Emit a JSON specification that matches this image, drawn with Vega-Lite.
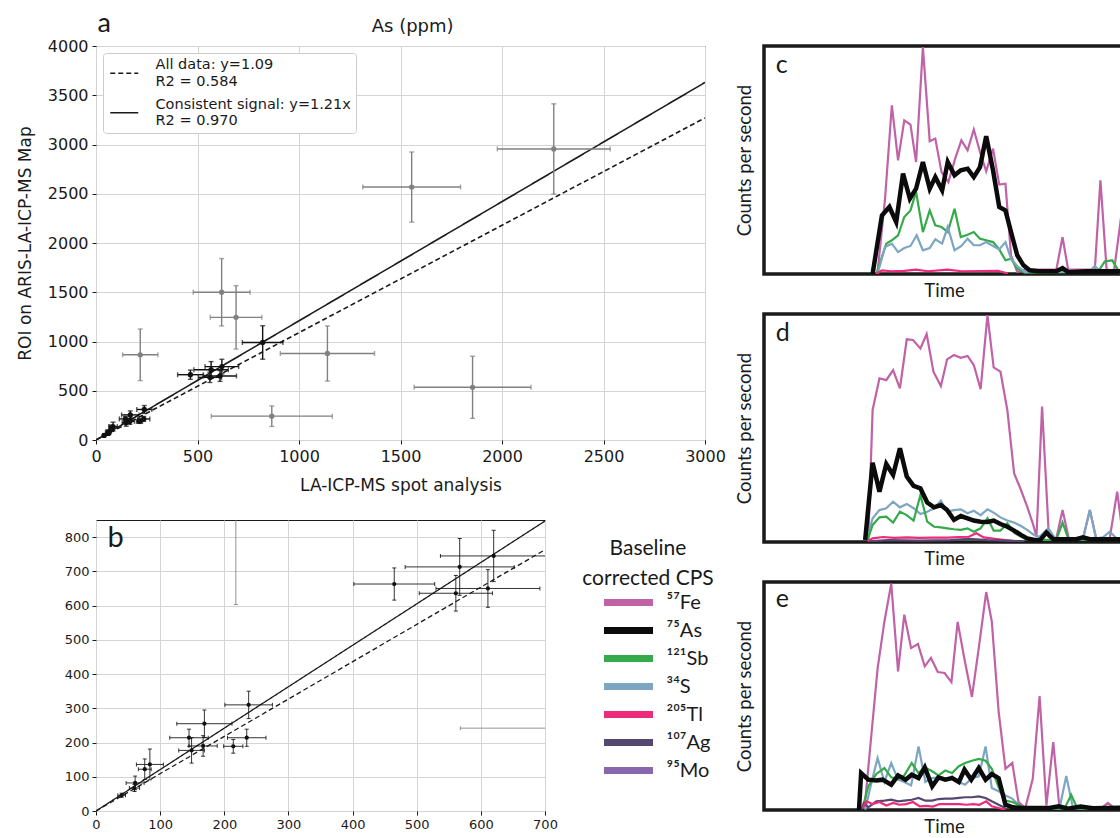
{
"$schema": "https://vega.github.io/schema/vega-lite/v6.json",
"padding": {"left": 15, "top": 9, "right": 0, "bottom": 0},
"background": "white",
"config": {
  "axis": {"labelFont": "DejaVu Sans", "titleFont": "DejaVu Sans", "titleFontWeight": "normal", "labelColor": "#1a1a1a", "titleColor": "#1a1a1a", "gridColor": "#d4d4d4", "gridWidth": 1, "tickColor": "#1a1a1a", "domain": false, "labelFlush": false},
  "style": {"guide-label": {"lineHeight": 16.5}}
},
"datasets": {
  "pts": [
    {"x":465,"y":663,"xe":63,"ye":47,"s":"consistent"},
    {"x":567,"y":713,"xe":85,"ye":83,"s":"consistent"},
    {"x":561,"y":636,"xe":57,"ye":52,"s":"consistent"},
    {"x":611,"y":650,"xe":81,"ye":55,"s":"consistent"},
    {"x":620,"y":745,"xe":83,"ye":75,"s":"consistent"},
    {"x":238,"y":310,"xe":37,"ye":40,"s":"consistent"},
    {"x":169,"y":255,"xe":43,"ye":40,"s":"consistent"},
    {"x":145,"y":214,"xe":30,"ye":25,"s":"consistent"},
    {"x":235,"y":214,"xe":30,"ye":25,"s":"consistent"},
    {"x":214,"y":189,"xe":15,"ye":20,"s":"consistent"},
    {"x":167,"y":190,"xe":22,"ye":30,"s":"consistent"},
    {"x":149,"y":177,"xe":20,"ye":37,"s":"consistent"},
    {"x":84,"y":136,"xe":21,"ye":45,"s":"consistent"},
    {"x":76,"y":122,"xe":10,"ye":30,"s":"consistent"},
    {"x":61,"y":82,"xe":14,"ye":20,"s":"consistent"},
    {"x":60,"y":67,"xe":8,"ye":10,"s":"consistent"},
    {"x":40,"y":46,"xe":6,"ye":6,"s":"consistent"},
    {"x":821,"y":990,"xe":100,"ye":170,"s":"consistent"},
    {"x":218,"y":865,"xe":87,"ye":262,"s":"inconsistent"},
    {"x":619,"y":1500,"xe":140,"ye":342,"s":"inconsistent"},
    {"x":690,"y":1245,"xe":127,"ye":322,"s":"inconsistent"},
    {"x":1140,"y":878,"xe":232,"ye":280,"s":"inconsistent"},
    {"x":866,"y":242,"xe":298,"ye":104,"s":"inconsistent"},
    {"x":1855,"y":535,"xe":288,"ye":315,"s":"inconsistent"},
    {"x":1555,"y":2568,"xe":241,"ye":356,"s":"inconsistent"},
    {"x":2255,"y":2955,"xe":278,"ye":458,"s":"inconsistent"}
  ],
  "fits": [
    {"fit":"All data: y=1.09","x":0,"y":0},
    {"fit":"All data: y=1.09","x":3000,"y":3270},
    {"fit":"Consistent signal: y=1.21x","x":0,"y":0},
    {"fit":"Consistent signal: y=1.21x","x":3000,"y":3630}
  ],
  "labels": [
    {"p":"a","lab":"a","x":8,"y":4142},
    {"p":"atitle","lab":"As (ppm)","x":1560,"y":4193},
    {"p":"b","lab":"b","x":18,"y":772},
    {"p":"c","lab":"c","t":1.9,"v":88},
    {"p":"d","lab":"d","t":1.9,"v":88},
    {"p":"e","lab":"e","t":1.9,"v":89}
  ],
  "cps": [
    {"p":"c","e":"⁵⁷Fe","t":18.3,"v":0.9},{"p":"c","e":"⁵⁷Fe","t":19.5,"v":33},{"p":"c","e":"⁵⁷Fe","t":20.6,"v":74},{"p":"c","e":"⁵⁷Fe","t":21.6,"v":49.8},{"p":"c","e":"⁵⁷Fe","t":22.6,"v":67.4},{"p":"c","e":"⁵⁷Fe","t":23.6,"v":65.5},{"p":"c","e":"⁵⁷Fe","t":24.5,"v":49.1},{"p":"c","e":"⁵⁷Fe","t":25.6,"v":99.5},{"p":"c","e":"⁵⁷Fe","t":26.7,"v":58.2},{"p":"c","e":"⁵⁷Fe","t":27.6,"v":59.4},{"p":"c","e":"⁵⁷Fe","t":28.6,"v":44.7},{"p":"c","e":"⁵⁷Fe","t":29.7,"v":40.3},{"p":"c","e":"⁵⁷Fe","t":30.8,"v":50.6},{"p":"c","e":"⁵⁷Fe","t":31.8,"v":58.6},{"p":"c","e":"⁵⁷Fe","t":32.8,"v":54.2},{"p":"c","e":"⁵⁷Fe","t":33.8,"v":63.4},{"p":"c","e":"⁵⁷Fe","t":34.8,"v":53.5},{"p":"c","e":"⁵⁷Fe","t":35.8,"v":45},{"p":"c","e":"⁵⁷Fe","t":36.9,"v":55},{"p":"c","e":"⁵⁷Fe","t":37.9,"v":39.2},{"p":"c","e":"⁵⁷Fe","t":38.9,"v":39.6},{"p":"c","e":"⁵⁷Fe","t":39.8,"v":8.2},{"p":"c","e":"⁵⁷Fe","t":40.8,"v":0.9},{"p":"c","e":"⁵⁷Fe","t":42,"v":1.9},{"p":"c","e":"⁵⁷Fe","t":47.1,"v":1.9},{"p":"c","e":"⁵⁷Fe","t":48.1,"v":16.2},{"p":"c","e":"⁵⁷Fe","t":49,"v":1.9},{"p":"c","e":"⁵⁷Fe","t":53.3,"v":1.9},{"p":"c","e":"⁵⁷Fe","t":54.2,"v":41.1},{"p":"c","e":"⁵⁷Fe","t":55.2,"v":1.9},{"p":"c","e":"⁵⁷Fe","t":56.4,"v":1.5},{"p":"c","e":"⁵⁷Fe","t":58.5,"v":45},
    {"p":"c","e":"¹²¹Sb","t":18.1,"v":0.1},{"p":"c","e":"¹²¹Sb","t":19.7,"v":13.3},{"p":"c","e":"¹²¹Sb","t":20.6,"v":14.8},{"p":"c","e":"¹²¹Sb","t":21.6,"v":17},{"p":"c","e":"¹²¹Sb","t":22.6,"v":25},{"p":"c","e":"¹²¹Sb","t":23.6,"v":27.9},{"p":"c","e":"¹²¹Sb","t":24.5,"v":36},{"p":"c","e":"¹²¹Sb","t":25.6,"v":18.4},{"p":"c","e":"¹²¹Sb","t":26.7,"v":27.9},{"p":"c","e":"¹²¹Sb","t":27.6,"v":21.3},{"p":"c","e":"¹²¹Sb","t":28.6,"v":20.6},{"p":"c","e":"¹²¹Sb","t":29.6,"v":18.4},{"p":"c","e":"¹²¹Sb","t":30.7,"v":28.6},{"p":"c","e":"¹²¹Sb","t":31.7,"v":16.2},{"p":"c","e":"¹²¹Sb","t":32.8,"v":17.2},{"p":"c","e":"¹²¹Sb","t":33.8,"v":18.4},{"p":"c","e":"¹²¹Sb","t":34.8,"v":15.5},{"p":"c","e":"¹²¹Sb","t":35.8,"v":14.8},{"p":"c","e":"¹²¹Sb","t":36.9,"v":14},{"p":"c","e":"¹²¹Sb","t":37.9,"v":10.8},{"p":"c","e":"¹²¹Sb","t":38.9,"v":6},{"p":"c","e":"¹²¹Sb","t":39.8,"v":6.7},{"p":"c","e":"¹²¹Sb","t":40.8,"v":2.3},{"p":"c","e":"¹²¹Sb","t":42,"v":0.6},{"p":"c","e":"¹²¹Sb","t":53.8,"v":0.9},{"p":"c","e":"¹²¹Sb","t":54.9,"v":5.5},{"p":"c","e":"¹²¹Sb","t":56.1,"v":6},{"p":"c","e":"¹²¹Sb","t":57.3,"v":0.6},{"p":"c","e":"¹²¹Sb","t":58.5,"v":0.6},
    {"p":"c","e":"³⁴S","t":18.3,"v":0.1},{"p":"c","e":"³⁴S","t":19.5,"v":11.8},{"p":"c","e":"³⁴S","t":20.6,"v":13.3},{"p":"c","e":"³⁴S","t":21.6,"v":9.6},{"p":"c","e":"³⁴S","t":22.6,"v":11.4},{"p":"c","e":"³⁴S","t":23.6,"v":12.3},{"p":"c","e":"³⁴S","t":24.6,"v":17},{"p":"c","e":"³⁴S","t":25.6,"v":10.4},{"p":"c","e":"³⁴S","t":26.7,"v":11.4},{"p":"c","e":"³⁴S","t":27.6,"v":15.2},{"p":"c","e":"³⁴S","t":28.7,"v":13.3},{"p":"c","e":"³⁴S","t":29.6,"v":20.6},{"p":"c","e":"³⁴S","t":30.7,"v":10.4},{"p":"c","e":"³⁴S","t":31.8,"v":12.3},{"p":"c","e":"³⁴S","t":32.8,"v":15.5},{"p":"c","e":"³⁴S","t":33.8,"v":12.6},{"p":"c","e":"³⁴S","t":34.8,"v":12.6},{"p":"c","e":"³⁴S","t":35.8,"v":14},{"p":"c","e":"³⁴S","t":36.9,"v":12.3},{"p":"c","e":"³⁴S","t":37.9,"v":10.8},{"p":"c","e":"³⁴S","t":38.9,"v":14},{"p":"c","e":"³⁴S","t":39.8,"v":6.7},{"p":"c","e":"³⁴S","t":40.8,"v":3.5},{"p":"c","e":"³⁴S","t":42,"v":0.9},{"p":"c","e":"³⁴S","t":52.3,"v":0.9},{"p":"c","e":"³⁴S","t":53.3,"v":3.5},{"p":"c","e":"³⁴S","t":54.3,"v":0.9},{"p":"c","e":"³⁴S","t":58.5,"v":0.9},
    {"p":"c","e":"²⁰⁵Tl","t":18.1,"v":0.1},{"p":"c","e":"²⁰⁵Tl","t":19,"v":1.6},{"p":"c","e":"²⁰⁵Tl","t":20.5,"v":1.2},{"p":"c","e":"²⁰⁵Tl","t":22.6,"v":1.4},{"p":"c","e":"²⁰⁵Tl","t":24.5,"v":1.9},{"p":"c","e":"²⁰⁵Tl","t":26.4,"v":1.2},{"p":"c","e":"²⁰⁵Tl","t":29.6,"v":1.9},{"p":"c","e":"²⁰⁵Tl","t":31.8,"v":1.2},{"p":"c","e":"²⁰⁵Tl","t":37.7,"v":1.4},{"p":"c","e":"²⁰⁵Tl","t":39.3,"v":0.2},
    {"p":"c","e":"⁷⁵As","t":17.5,"v":0.1},{"p":"c","e":"⁷⁵As","t":19,"v":25.7},{"p":"c","e":"⁷⁵As","t":20.2,"v":29.4},{"p":"c","e":"⁷⁵As","t":21.3,"v":22.8},{"p":"c","e":"⁷⁵As","t":22.4,"v":44},{"p":"c","e":"⁷⁵As","t":23.5,"v":33},{"p":"c","e":"⁷⁵As","t":24.5,"v":37.4},{"p":"c","e":"⁷⁵As","t":25.6,"v":49.1},{"p":"c","e":"⁷⁵As","t":26.7,"v":37.4},{"p":"c","e":"⁷⁵As","t":27.6,"v":42.5},{"p":"c","e":"⁷⁵As","t":28.7,"v":36.7},{"p":"c","e":"⁷⁵As","t":29.6,"v":49.1},{"p":"c","e":"⁷⁵As","t":30.7,"v":43.3},{"p":"c","e":"⁷⁵As","t":31.7,"v":45.5},{"p":"c","e":"⁷⁵As","t":32.8,"v":46.2},{"p":"c","e":"⁷⁵As","t":33.8,"v":42.5},{"p":"c","e":"⁷⁵As","t":34.8,"v":46.9},{"p":"c","e":"⁷⁵As","t":35.8,"v":60.4},{"p":"c","e":"⁷⁵As","t":36.9,"v":45.5},{"p":"c","e":"⁷⁵As","t":37.9,"v":29.4},{"p":"c","e":"⁷⁵As","t":38.9,"v":27.9},{"p":"c","e":"⁷⁵As","t":39.8,"v":18.4},{"p":"c","e":"⁷⁵As","t":40.8,"v":8.2},{"p":"c","e":"⁷⁵As","t":41.8,"v":3.8},{"p":"c","e":"⁷⁵As","t":42.8,"v":1.6},{"p":"c","e":"⁷⁵As","t":44.2,"v":1.2},{"p":"c","e":"⁷⁵As","t":47.1,"v":1.2},{"p":"c","e":"⁷⁵As","t":48.1,"v":2.6},{"p":"c","e":"⁷⁵As","t":49,"v":0.8},{"p":"c","e":"⁷⁵As","t":52,"v":1.2},{"p":"c","e":"⁷⁵As","t":58.5,"v":1.2},

    {"p":"d","e":"⁵⁷Fe","t":16.8,"v":0.9},{"p":"d","e":"⁵⁷Fe","t":17.5,"v":57.9},{"p":"d","e":"⁵⁷Fe","t":18.6,"v":71.8},{"p":"d","e":"⁵⁷Fe","t":19.7,"v":71},{"p":"d","e":"⁵⁷Fe","t":20.8,"v":75.4},{"p":"d","e":"⁵⁷Fe","t":21.9,"v":67.4},{"p":"d","e":"⁵⁷Fe","t":23,"v":88.9},{"p":"d","e":"⁵⁷Fe","t":24,"v":88.6},{"p":"d","e":"⁵⁷Fe","t":25.2,"v":84.9},{"p":"d","e":"⁵⁷Fe","t":26.2,"v":91.2},{"p":"d","e":"⁵⁷Fe","t":27.3,"v":74.7},{"p":"d","e":"⁵⁷Fe","t":28.5,"v":68.4},{"p":"d","e":"⁵⁷Fe","t":29.5,"v":80.1},{"p":"d","e":"⁵⁷Fe","t":30.6,"v":82},{"p":"d","e":"⁵⁷Fe","t":31.7,"v":80.8},{"p":"d","e":"⁵⁷Fe","t":32.8,"v":81.6},{"p":"d","e":"⁵⁷Fe","t":33.8,"v":77.6},{"p":"d","e":"⁵⁷Fe","t":34.9,"v":67},{"p":"d","e":"⁵⁷Fe","t":36,"v":99.5},{"p":"d","e":"⁵⁷Fe","t":37,"v":76.6},{"p":"d","e":"⁵⁷Fe","t":38.1,"v":74.7},{"p":"d","e":"⁵⁷Fe","t":39.2,"v":57.9},{"p":"d","e":"⁵⁷Fe","t":40.3,"v":30.1},{"p":"d","e":"⁵⁷Fe","t":41.4,"v":22.8},{"p":"d","e":"⁵⁷Fe","t":42.4,"v":15.5},{"p":"d","e":"⁵⁷Fe","t":43.3,"v":8.2},{"p":"d","e":"⁵⁷Fe","t":43.9,"v":2.3},{"p":"d","e":"⁵⁷Fe","t":44.8,"v":59.4},{"p":"d","e":"⁵⁷Fe","t":45.9,"v":2.3},{"p":"d","e":"⁵⁷Fe","t":47.1,"v":1.6},{"p":"d","e":"⁵⁷Fe","t":48.1,"v":14},{"p":"d","e":"⁵⁷Fe","t":49.1,"v":1.6},{"p":"d","e":"⁵⁷Fe","t":51.4,"v":1.6},{"p":"d","e":"⁵⁷Fe","t":52.5,"v":14},{"p":"d","e":"⁵⁷Fe","t":53.5,"v":1.6},{"p":"d","e":"⁵⁷Fe","t":55.7,"v":1.6},{"p":"d","e":"⁵⁷Fe","t":56.9,"v":22.1},{"p":"d","e":"⁵⁷Fe","t":57.7,"v":5.3},{"p":"d","e":"⁵⁷Fe","t":58.5,"v":1.6},
    {"p":"d","e":"³⁴S","t":16.5,"v":0.9},{"p":"d","e":"³⁴S","t":17.5,"v":10.4},{"p":"d","e":"³⁴S","t":18.6,"v":14},{"p":"d","e":"³⁴S","t":19.7,"v":14.8},{"p":"d","e":"³⁴S","t":20.8,"v":17.7},{"p":"d","e":"³⁴S","t":21.9,"v":15.2},{"p":"d","e":"³⁴S","t":23,"v":16.7},{"p":"d","e":"³⁴S","t":24.1,"v":14.8},{"p":"d","e":"³⁴S","t":25.2,"v":12.3},{"p":"d","e":"³⁴S","t":26.3,"v":13.3},{"p":"d","e":"³⁴S","t":27.4,"v":14.8},{"p":"d","e":"³⁴S","t":28.5,"v":18.1},{"p":"d","e":"³⁴S","t":29.5,"v":13.3},{"p":"d","e":"³⁴S","t":30.6,"v":14},{"p":"d","e":"³⁴S","t":31.7,"v":14.3},{"p":"d","e":"³⁴S","t":32.8,"v":12.6},{"p":"d","e":"³⁴S","t":33.8,"v":13.7},{"p":"d","e":"³⁴S","t":34.9,"v":11.8},{"p":"d","e":"³⁴S","t":36,"v":14.3},{"p":"d","e":"³⁴S","t":37,"v":12.9},{"p":"d","e":"³⁴S","t":38.1,"v":10.8},{"p":"d","e":"³⁴S","t":39.2,"v":9.4},{"p":"d","e":"³⁴S","t":40.3,"v":8.5},{"p":"d","e":"³⁴S","t":41.4,"v":7},{"p":"d","e":"³⁴S","t":42.4,"v":5.3},{"p":"d","e":"³⁴S","t":43.5,"v":3.1},{"p":"d","e":"³⁴S","t":44.4,"v":2.3},{"p":"d","e":"³⁴S","t":45.8,"v":6},{"p":"d","e":"³⁴S","t":46.9,"v":1.6},{"p":"d","e":"³⁴S","t":51.4,"v":1.6},{"p":"d","e":"³⁴S","t":52.5,"v":14},{"p":"d","e":"³⁴S","t":53.5,"v":1.6},{"p":"d","e":"³⁴S","t":54.6,"v":2},{"p":"d","e":"³⁴S","t":55.7,"v":4.5},{"p":"d","e":"³⁴S","t":56.8,"v":1.6},{"p":"d","e":"³⁴S","t":58.5,"v":2},
    {"p":"d","e":"¹²¹Sb","t":16.7,"v":0.9},{"p":"d","e":"¹²¹Sb","t":17.5,"v":7.5},{"p":"d","e":"¹²¹Sb","t":18.6,"v":10.8},{"p":"d","e":"¹²¹Sb","t":19.7,"v":11.1},{"p":"d","e":"¹²¹Sb","t":20.8,"v":8.5},{"p":"d","e":"¹²¹Sb","t":21.9,"v":13.3},{"p":"d","e":"¹²¹Sb","t":23,"v":11.8},{"p":"d","e":"¹²¹Sb","t":24.1,"v":9.4},{"p":"d","e":"¹²¹Sb","t":25.2,"v":20.6},{"p":"d","e":"¹²¹Sb","t":26.3,"v":8.9},{"p":"d","e":"¹²¹Sb","t":27.4,"v":6.7},{"p":"d","e":"¹²¹Sb","t":28.5,"v":6.4},{"p":"d","e":"¹²¹Sb","t":29.5,"v":6},{"p":"d","e":"¹²¹Sb","t":30.6,"v":5.6},{"p":"d","e":"¹²¹Sb","t":31.7,"v":5.3},{"p":"d","e":"¹²¹Sb","t":32.8,"v":6},{"p":"d","e":"¹²¹Sb","t":33.8,"v":4.5},{"p":"d","e":"¹²¹Sb","t":34.9,"v":6},{"p":"d","e":"¹²¹Sb","t":36,"v":10.4},{"p":"d","e":"¹²¹Sb","t":37,"v":5},{"p":"d","e":"¹²¹Sb","t":38.1,"v":5},{"p":"d","e":"¹²¹Sb","t":39.2,"v":8.2},{"p":"d","e":"¹²¹Sb","t":40.3,"v":4.1},{"p":"d","e":"¹²¹Sb","t":41.4,"v":2.3},{"p":"d","e":"¹²¹Sb","t":42.5,"v":0.9},{"p":"d","e":"¹²¹Sb","t":47.1,"v":0.9},{"p":"d","e":"¹²¹Sb","t":48.1,"v":8.5},{"p":"d","e":"¹²¹Sb","t":49.1,"v":0.9},{"p":"d","e":"¹²¹Sb","t":58.5,"v":0.9},
    {"p":"d","e":"²⁰⁵Tl","t":16.7,"v":0.3},{"p":"d","e":"²⁰⁵Tl","t":17.5,"v":1.6},{"p":"d","e":"²⁰⁵Tl","t":19.2,"v":2.2},{"p":"d","e":"²⁰⁵Tl","t":21,"v":1.8},{"p":"d","e":"²⁰⁵Tl","t":23.1,"v":2},{"p":"d","e":"²⁰⁵Tl","t":25,"v":1.8},{"p":"d","e":"²⁰⁵Tl","t":27.2,"v":1.9},{"p":"d","e":"²⁰⁵Tl","t":29.6,"v":1.9},{"p":"d","e":"²⁰⁵Tl","t":31.5,"v":2.2},{"p":"d","e":"²⁰⁵Tl","t":33,"v":2.3},{"p":"d","e":"²⁰⁵Tl","t":34.2,"v":3.8},{"p":"d","e":"²⁰⁵Tl","t":35.4,"v":2},{"p":"d","e":"²⁰⁵Tl","t":37.8,"v":1.2},{"p":"d","e":"²⁰⁵Tl","t":40,"v":0.5},
    {"p":"d","e":"¹⁰⁷Ag","t":17,"v":0.3},{"p":"d","e":"¹⁰⁷Ag","t":20,"v":0.8},{"p":"d","e":"¹⁰⁷Ag","t":25,"v":0.6},{"p":"d","e":"¹⁰⁷Ag","t":30,"v":0.8},{"p":"d","e":"¹⁰⁷Ag","t":33,"v":1.4},{"p":"d","e":"¹⁰⁷Ag","t":36,"v":0.8},{"p":"d","e":"¹⁰⁷Ag","t":40,"v":0.5},{"p":"d","e":"¹⁰⁷Ag","t":42,"v":0.2},
    {"p":"d","e":"⁷⁵As","t":16.3,"v":0.9},{"p":"d","e":"⁷⁵As","t":17.5,"v":34.8},{"p":"d","e":"⁷⁵As","t":18.6,"v":22.1},{"p":"d","e":"⁷⁵As","t":19.7,"v":34.2},{"p":"d","e":"⁷⁵As","t":20.8,"v":29.4},{"p":"d","e":"⁷⁵As","t":21.9,"v":41.1},{"p":"d","e":"⁷⁵As","t":23,"v":28.7},{"p":"d","e":"⁷⁵As","t":24.1,"v":24.6},{"p":"d","e":"⁷⁵As","t":25.2,"v":23.5},{"p":"d","e":"⁷⁵As","t":26.3,"v":17.3},{"p":"d","e":"⁷⁵As","t":27.4,"v":15.2},{"p":"d","e":"⁷⁵As","t":28.5,"v":16.2},{"p":"d","e":"⁷⁵As","t":29.5,"v":14},{"p":"d","e":"⁷⁵As","t":30.6,"v":9.7},{"p":"d","e":"⁷⁵As","t":31.7,"v":11.4},{"p":"d","e":"⁷⁵As","t":32.8,"v":10.4},{"p":"d","e":"⁷⁵As","t":33.8,"v":9.4},{"p":"d","e":"⁷⁵As","t":34.9,"v":8.9},{"p":"d","e":"⁷⁵As","t":36,"v":8.8},{"p":"d","e":"⁷⁵As","t":37,"v":9.4},{"p":"d","e":"⁷⁵As","t":38.1,"v":7.9},{"p":"d","e":"⁷⁵As","t":39.2,"v":6.7},{"p":"d","e":"⁷⁵As","t":40.3,"v":5},{"p":"d","e":"⁷⁵As","t":41.4,"v":3.1},{"p":"d","e":"⁷⁵As","t":42.4,"v":1.6},{"p":"d","e":"⁷⁵As","t":43.6,"v":0.9},{"p":"d","e":"⁷⁵As","t":44.5,"v":0.9},{"p":"d","e":"⁷⁵As","t":45.5,"v":4.1},{"p":"d","e":"⁷⁵As","t":46.6,"v":1.2},{"p":"d","e":"⁷⁵As","t":50.3,"v":1.2},{"p":"d","e":"⁷⁵As","t":51.4,"v":2},{"p":"d","e":"⁷⁵As","t":52.5,"v":1.2},{"p":"d","e":"⁷⁵As","t":58.5,"v":1.2},

    {"p":"e","e":"⁵⁷Fe","t":16.2,"v":0.9},{"p":"e","e":"⁵⁷Fe","t":17.3,"v":33},{"p":"e","e":"⁵⁷Fe","t":18.3,"v":62},{"p":"e","e":"⁵⁷Fe","t":19.4,"v":82.7},{"p":"e","e":"⁵⁷Fe","t":20.5,"v":99.3},{"p":"e","e":"⁵⁷Fe","t":21.6,"v":60.8},{"p":"e","e":"⁵⁷Fe","t":22.6,"v":85.7},{"p":"e","e":"⁵⁷Fe","t":23.7,"v":71},{"p":"e","e":"⁵⁷Fe","t":24.8,"v":72.8},{"p":"e","e":"⁵⁷Fe","t":25.9,"v":63},{"p":"e","e":"⁵⁷Fe","t":26.9,"v":66.7},{"p":"e","e":"⁵⁷Fe","t":28,"v":60.5},{"p":"e","e":"⁵⁷Fe","t":29.1,"v":60.1},{"p":"e","e":"⁵⁷Fe","t":30.2,"v":56.1},{"p":"e","e":"⁵⁷Fe","t":31.2,"v":82.5},{"p":"e","e":"⁵⁷Fe","t":32.3,"v":66.1},{"p":"e","e":"⁵⁷Fe","t":33.5,"v":49.6},{"p":"e","e":"⁵⁷Fe","t":34.6,"v":71},{"p":"e","e":"⁵⁷Fe","t":35.8,"v":95.6},{"p":"e","e":"⁵⁷Fe","t":36.7,"v":82.7},{"p":"e","e":"⁵⁷Fe","t":37.8,"v":43.3},{"p":"e","e":"⁵⁷Fe","t":38.9,"v":18.1},{"p":"e","e":"⁵⁷Fe","t":40,"v":20.7},{"p":"e","e":"⁵⁷Fe","t":41,"v":3.5},{"p":"e","e":"⁵⁷Fe","t":42.1,"v":0.9},{"p":"e","e":"⁵⁷Fe","t":43.3,"v":13.7},{"p":"e","e":"⁵⁷Fe","t":44.4,"v":50},{"p":"e","e":"⁵⁷Fe","t":45.5,"v":2},{"p":"e","e":"⁵⁷Fe","t":46.6,"v":29.8},{"p":"e","e":"⁵⁷Fe","t":47.6,"v":0.9},{"p":"e","e":"⁵⁷Fe","t":54.4,"v":0.9},{"p":"e","e":"⁵⁷Fe","t":55.4,"v":3.1},{"p":"e","e":"⁵⁷Fe","t":56.4,"v":0.9},{"p":"e","e":"⁵⁷Fe","t":58.5,"v":0.9},
    {"p":"e","e":"³⁴S","t":16.3,"v":0.1},{"p":"e","e":"³⁴S","t":17.3,"v":11.8},{"p":"e","e":"³⁴S","t":18.3,"v":22.8},{"p":"e","e":"³⁴S","t":19.4,"v":12.3},{"p":"e","e":"³⁴S","t":20.5,"v":20.6},{"p":"e","e":"³⁴S","t":21.6,"v":13.3},{"p":"e","e":"³⁴S","t":22.6,"v":12.3},{"p":"e","e":"³⁴S","t":23.7,"v":10.8},{"p":"e","e":"³⁴S","t":24.9,"v":27.9},{"p":"e","e":"³⁴S","t":26,"v":12.3},{"p":"e","e":"³⁴S","t":27.1,"v":14},{"p":"e","e":"³⁴S","t":28.1,"v":14.3},{"p":"e","e":"³⁴S","t":29.2,"v":13.3},{"p":"e","e":"³⁴S","t":30.3,"v":14.8},{"p":"e","e":"³⁴S","t":31.4,"v":12.3},{"p":"e","e":"³⁴S","t":32.4,"v":11.1},{"p":"e","e":"³⁴S","t":33.5,"v":14},{"p":"e","e":"³⁴S","t":34.6,"v":14.8},{"p":"e","e":"³⁴S","t":35.7,"v":27.9},{"p":"e","e":"³⁴S","t":36.7,"v":9.6},{"p":"e","e":"³⁴S","t":37.8,"v":8.2},{"p":"e","e":"³⁴S","t":38.9,"v":6.4},{"p":"e","e":"³⁴S","t":40,"v":5},{"p":"e","e":"³⁴S","t":41,"v":2.3},{"p":"e","e":"³⁴S","t":42.1,"v":0.9},{"p":"e","e":"³⁴S","t":47.6,"v":0.6},{"p":"e","e":"³⁴S","t":48.7,"v":14.9},{"p":"e","e":"³⁴S","t":49.8,"v":0.6},{"p":"e","e":"³⁴S","t":58.5,"v":0.6},
    {"p":"e","e":"¹²¹Sb","t":15.9,"v":0.9},{"p":"e","e":"¹²¹Sb","t":16.8,"v":10.4},{"p":"e","e":"¹²¹Sb","t":18.1,"v":15.8},{"p":"e","e":"¹²¹Sb","t":19.4,"v":18.4},{"p":"e","e":"¹²¹Sb","t":20.5,"v":14.3},{"p":"e","e":"¹²¹Sb","t":21.6,"v":13.6},{"p":"e","e":"¹²¹Sb","t":22.6,"v":15.2},{"p":"e","e":"¹²¹Sb","t":23.8,"v":20.6},{"p":"e","e":"¹²¹Sb","t":24.9,"v":16.2},{"p":"e","e":"¹²¹Sb","t":25.9,"v":18.7},{"p":"e","e":"¹²¹Sb","t":27.1,"v":17},{"p":"e","e":"¹²¹Sb","t":28.1,"v":15.2},{"p":"e","e":"¹²¹Sb","t":29.2,"v":17.3},{"p":"e","e":"¹²¹Sb","t":30.3,"v":16.2},{"p":"e","e":"¹²¹Sb","t":31.4,"v":19.2},{"p":"e","e":"¹²¹Sb","t":32.4,"v":20.6},{"p":"e","e":"¹²¹Sb","t":33.5,"v":21.6},{"p":"e","e":"¹²¹Sb","t":34.6,"v":22.4},{"p":"e","e":"¹²¹Sb","t":35.7,"v":21.6},{"p":"e","e":"¹²¹Sb","t":36.7,"v":18.1},{"p":"e","e":"¹²¹Sb","t":37.8,"v":9.9},{"p":"e","e":"¹²¹Sb","t":38.9,"v":4.1},{"p":"e","e":"¹²¹Sb","t":40,"v":3.5},{"p":"e","e":"¹²¹Sb","t":41,"v":2.3},{"p":"e","e":"¹²¹Sb","t":42.1,"v":0.6},{"p":"e","e":"¹²¹Sb","t":48.4,"v":0.6},{"p":"e","e":"¹²¹Sb","t":49.5,"v":6.7},{"p":"e","e":"¹²¹Sb","t":50.5,"v":0.6},{"p":"e","e":"¹²¹Sb","t":58.5,"v":0.6},
    {"p":"e","e":"¹⁰⁷Ag","t":15.65,"v":0.1},{"p":"e","e":"¹⁰⁷Ag","t":16.1,"v":3.1},{"p":"e","e":"¹⁰⁷Ag","t":16.8,"v":1.2},{"p":"e","e":"¹⁰⁷Ag","t":18.1,"v":3.8},{"p":"e","e":"¹⁰⁷Ag","t":19.4,"v":4.1},{"p":"e","e":"¹⁰⁷Ag","t":20.5,"v":4.5},{"p":"e","e":"¹⁰⁷Ag","t":21.6,"v":3.8},{"p":"e","e":"¹⁰⁷Ag","t":22.6,"v":4.1},{"p":"e","e":"¹⁰⁷Ag","t":23.8,"v":4.5},{"p":"e","e":"¹⁰⁷Ag","t":24.9,"v":5.3},{"p":"e","e":"¹⁰⁷Ag","t":26,"v":4.1},{"p":"e","e":"¹⁰⁷Ag","t":27.1,"v":4.1},{"p":"e","e":"¹⁰⁷Ag","t":28.1,"v":4.8},{"p":"e","e":"¹⁰⁷Ag","t":29.2,"v":5},{"p":"e","e":"¹⁰⁷Ag","t":30.3,"v":5},{"p":"e","e":"¹⁰⁷Ag","t":31.4,"v":5.3},{"p":"e","e":"¹⁰⁷Ag","t":32.4,"v":5.6},{"p":"e","e":"¹⁰⁷Ag","t":33.5,"v":5.6},{"p":"e","e":"¹⁰⁷Ag","t":34.6,"v":6},{"p":"e","e":"¹⁰⁷Ag","t":35.7,"v":5.3},{"p":"e","e":"¹⁰⁷Ag","t":36.7,"v":3.8},{"p":"e","e":"¹⁰⁷Ag","t":37.8,"v":2.3},{"p":"e","e":"¹⁰⁷Ag","t":38.9,"v":0.9},
    {"p":"e","e":"²⁰⁵Tl","t":15.9,"v":0.9},{"p":"e","e":"²⁰⁵Tl","t":16.5,"v":3.8},{"p":"e","e":"²⁰⁵Tl","t":17.5,"v":2.6},{"p":"e","e":"²⁰⁵Tl","t":18.6,"v":3.5},{"p":"e","e":"²⁰⁵Tl","t":19.7,"v":2},{"p":"e","e":"²⁰⁵Tl","t":20.8,"v":3.1},{"p":"e","e":"²⁰⁵Tl","t":21.8,"v":2.3},{"p":"e","e":"²⁰⁵Tl","t":22.9,"v":2.6},{"p":"e","e":"²⁰⁵Tl","t":24,"v":3.5},{"p":"e","e":"²⁰⁵Tl","t":25.1,"v":1.6},{"p":"e","e":"²⁰⁵Tl","t":26.1,"v":1.8},{"p":"e","e":"²⁰⁵Tl","t":27.2,"v":1.5},{"p":"e","e":"²⁰⁵Tl","t":28.3,"v":2.6},{"p":"e","e":"²⁰⁵Tl","t":29.4,"v":2.6},{"p":"e","e":"²⁰⁵Tl","t":30.4,"v":2.6},{"p":"e","e":"²⁰⁵Tl","t":31.5,"v":2.6},{"p":"e","e":"²⁰⁵Tl","t":32.6,"v":2.3},{"p":"e","e":"²⁰⁵Tl","t":33.7,"v":2.6},{"p":"e","e":"²⁰⁵Tl","t":34.7,"v":2.3},{"p":"e","e":"²⁰⁵Tl","t":35.8,"v":3.8},{"p":"e","e":"²⁰⁵Tl","t":36.7,"v":1.6},{"p":"e","e":"²⁰⁵Tl","t":37.8,"v":0.9},{"p":"e","e":"²⁰⁵Tl","t":38.9,"v":0.1},
    {"p":"e","e":"⁷⁵As","t":15.3,"v":0.1},{"p":"e","e":"⁷⁵As","t":15.65,"v":16.2},{"p":"e","e":"⁷⁵As","t":16.8,"v":13.3},{"p":"e","e":"⁷⁵As","t":18.1,"v":12.9},{"p":"e","e":"⁷⁵As","t":19.1,"v":13.3},{"p":"e","e":"⁷⁵As","t":20.5,"v":11.1},{"p":"e","e":"⁷⁵As","t":21.6,"v":15.2},{"p":"e","e":"⁷⁵As","t":22.8,"v":13.3},{"p":"e","e":"⁷⁵As","t":23.8,"v":15.5},{"p":"e","e":"⁷⁵As","t":24.9,"v":14},{"p":"e","e":"⁷⁵As","t":25.9,"v":18.7},{"p":"e","e":"⁷⁵As","t":27.1,"v":10.4},{"p":"e","e":"⁷⁵As","t":28.1,"v":14.3},{"p":"e","e":"⁷⁵As","t":29.2,"v":13.3},{"p":"e","e":"⁷⁵As","t":30.3,"v":14},{"p":"e","e":"⁷⁵As","t":31.4,"v":12.3},{"p":"e","e":"⁷⁵As","t":32.3,"v":17.7},{"p":"e","e":"⁷⁵As","t":33.4,"v":13.3},{"p":"e","e":"⁷⁵As","t":34.6,"v":18.4},{"p":"e","e":"⁷⁵As","t":35.7,"v":13.3},{"p":"e","e":"⁷⁵As","t":36.7,"v":15.8},{"p":"e","e":"⁷⁵As","t":37.8,"v":14},{"p":"e","e":"⁷⁵As","t":38.9,"v":2.3},{"p":"e","e":"⁷⁵As","t":40.1,"v":1.2},{"p":"e","e":"⁷⁵As","t":41.5,"v":0.9},{"p":"e","e":"⁷⁵As","t":46,"v":0.9},{"p":"e","e":"⁷⁵As","t":47.5,"v":1.6},{"p":"e","e":"⁷⁵As","t":49,"v":0.6},{"p":"e","e":"⁷⁵As","t":51,"v":1.5},{"p":"e","e":"⁷⁵As","t":53,"v":0.8},{"p":"e","e":"⁷⁵As","t":58.5,"v":1.1}
  ]
},
"spacing": 7,
"hconcat": [
  {
    "bounds": "flush",
    "spacing": 80,
    "resolve": {"legend": {"strokeDash": "independent"}},
    "vconcat": [
      {
        "width": 609, "height": 394,
        "view": {"stroke": "#1a1a1a", "strokeWidth": 1},
        "encoding": {
          "x": {"field": "x", "type": "quantitative", "title": "LA-ICP-MS spot analysis", "scale": {"domain": [0, 3000]}, "axis": {"values": [0,500,1000,1500,2000,2500,3000], "format": "d", "labelFontSize": 16, "titleFontSize": 17, "tickSize": 4, "labelPadding": 4, "titlePadding": 13}},
          "y": {"field": "y", "type": "quantitative", "title": "ROI on ARIS-LA-ICP-MS Map", "scale": {"domain": [0, 4000]}, "axis": {"values": [0,500,1000,1500,2000,2500,3000,3500,4000], "format": "d", "labelFontSize": 16, "titleFontSize": 17, "tickSize": 4, "labelPadding": 4, "titlePadding": 13}}
        },
        "layer": [
          {"data": {"name": "fits"}, "mark": {"type": "line", "strokeWidth": 1.6, "color": "#1a1a1a", "clip": true},
           "encoding": {"strokeDash": {"field": "fit", "type": "nominal",
             "scale": {"domain": ["All data: y=1.09", "Consistent signal: y=1.21x"], "range": [[5, 3], [1, 0]]},
             "legend": {"title": null, "orient": "top-left", "offset": 7, "padding": 5, "fillColor": "white", "strokeColor": "#cccccc", "cornerRadius": 3,
               "symbolType": "M-2.8,1.6H2.8", "symbolSize": 100, "symbolStrokeWidth": 1.6, "symbolStrokeColor": "#1a1a1a", "symbolOffset": 9,
               "labelFont": "DejaVu Sans", "labelFontSize": 14.5, "labelColor": "#1a1a1a", "labelOffset": 24, "rowPadding": 7.5, "labelLimit": 400,
               "labelExpr": "datum.label == 'All data: y=1.09' ? ['All data: y=1.09', 'R2 = 0.584'] : ['Consistent signal: y=1.21x', 'R2 = 0.970']"}}}},
          {"data": {"name": "pts"}, "mark": {"type": "errorbar", "ticks": {"size": 5}, "thickness": 1.4, "clip": true},
           "encoding": {"xError": {"field": "xe"}, "color": {"field": "s", "type": "nominal", "scale": {"domain": ["consistent", "inconsistent"], "range": ["#111111", "#808080"]}, "legend": null}}},
          {"data": {"name": "pts"}, "mark": {"type": "errorbar", "ticks": {"size": 5}, "thickness": 1.4, "clip": true},
           "encoding": {"yError": {"field": "ye"}, "color": {"field": "s", "type": "nominal", "scale": {"domain": ["consistent", "inconsistent"], "range": ["#111111", "#808080"]}, "legend": null}}},
          {"data": {"name": "pts"}, "mark": {"type": "circle", "size": 28, "opacity": 1, "clip": true},
           "encoding": {"color": {"field": "s", "type": "nominal", "scale": {"domain": ["consistent", "inconsistent"], "range": ["#111111", "#808080"]}, "legend": null}}},
          {"data": {"name": "labels"}, "transform": [{"filter": "datum.p === 'a'"}],
           "mark": {"type": "text", "font": "Lato", "fontSize": 27, "align": "left", "baseline": "alphabetic", "color": "#1a1a1a"},
           "encoding": {"text": {"field": "lab"}}},
          {"data": {"name": "labels"}, "transform": [{"filter": "datum.p === 'atitle'"}],
           "mark": {"type": "text", "font": "DejaVu Sans", "fontSize": 18, "align": "center", "baseline": "middle", "color": "#1a1a1a"},
           "encoding": {"text": {"field": "lab"}}}
        ]
      },
      {
        "width": 449, "height": 291,
        "view": {"stroke": "#1a1a1a", "strokeWidth": 1},
        "encoding": {
          "x": {"field": "x", "type": "quantitative", "title": null, "scale": {"domain": [0, 700]}, "axis": {"values": [0,100,200,300,400,500,600,700], "labelFontSize": 13, "tickSize": 4, "labelPadding": 3}},
          "y": {"field": "y", "type": "quantitative", "title": null, "scale": {"domain": [0, 850]}, "axis": {"values": [0,100,200,300,400,500,600,700,800], "labelFontSize": 13, "tickSize": 4, "labelPadding": 3}}
        },
        "layer": [
          {"data": {"name": "fits"}, "mark": {"type": "line", "strokeWidth": 1.3, "color": "#1a1a1a", "clip": true},
           "encoding": {"strokeDash": {"field": "fit", "type": "nominal", "scale": {"domain": ["All data: y=1.09", "Consistent signal: y=1.21x"], "range": [[5, 3], [1, 0]]}, "legend": null}}},
          {"data": {"name": "pts"}, "mark": {"type": "errorbar", "ticks": {"size": 4}, "thickness": 1, "clip": true, "opacity": 0.85},
           "encoding": {"xError": {"field": "xe"}, "color": {"field": "s", "type": "nominal", "scale": {"domain": ["consistent", "inconsistent"], "range": ["#111111", "#808080"]}, "legend": null}}},
          {"data": {"name": "pts"}, "mark": {"type": "errorbar", "ticks": {"size": 4}, "thickness": 1, "clip": true, "opacity": 0.85},
           "encoding": {"yError": {"field": "ye"}, "color": {"field": "s", "type": "nominal", "scale": {"domain": ["consistent", "inconsistent"], "range": ["#111111", "#808080"]}, "legend": null}}},
          {"data": {"name": "pts"}, "mark": {"type": "circle", "size": 18, "opacity": 1, "clip": true},
           "encoding": {"color": {"field": "s", "type": "nominal", "scale": {"domain": ["consistent", "inconsistent"], "range": ["#111111", "#808080"]}, "legend": null}}},
          {"data": {"name": "labels"}, "transform": [{"filter": "datum.p === 'b'"}],
           "mark": {"type": "text", "font": "Lato", "fontSize": 29, "align": "left", "baseline": "alphabetic", "color": "#1a1a1a"},
           "encoding": {"text": {"field": "lab"}}}
        ]
      }
    ]
  },
  {
    "bounds": "flush",
    "spacing": 40,
    "vconcat": [
      {
        "width": 360, "height": 228,
        "view": {"stroke": "#1a1a1a", "strokeWidth": 3.5},
        "encoding": {
          "x": {"field": "t", "type": "quantitative", "title": "Time", "scale": {"domain": [0, 58]}, "axis": {"labels": false, "ticks": false, "grid": false, "domain": false, "titleFont": "Lato", "titleFontSize": 18.5, "titlePadding": 7}},
          "y": {"field": "v", "type": "quantitative", "title": "Counts per second", "scale": {"domain": [0, 100]}, "axis": {"labels": false, "ticks": false, "grid": false, "domain": false, "titleFont": "Lato", "titleFontSize": 18.5, "titlePadding": 10}}
        },
        "layer": [
          {"data": {"name": "cps"}, "transform": [{"filter": "datum.p === 'c' && datum.e !== '⁷⁵As'"}],
           "mark": {"type": "line", "strokeWidth": 2.2, "clip": true},
           "encoding": {"stroke": {"field": "e", "type": "nominal",
             "scale": {"domain": ["⁵⁷Fe", "⁷⁵As", "¹²¹Sb", "³⁴S", "²⁰⁵Tl", "¹⁰⁷Ag", "⁹⁵Mo"], "range": ["#c062a8", "#0b0b0b", "#35aa4a", "#7ca6c1", "#ee2a7b", "#554870", "#8867ae"]},
             "legend": {"title": ["Baseline", "corrected CPS"], "orient": "none", "legendX": 486, "legendY": 492,
               "titleFont": "Lato", "titleFontSize": 21, "titleFontWeight": "normal", "titleColor": "#1a1a1a", "titleLineHeight": 30, "titleAlign": "center", "titleAnchor": "middle", "titlePadding": 0,
               "symbolType": "M-2.45,0H2.45", "symbolSize": 400, "symbolStrokeWidth": 7, "symbolOffset": 30,
               "labelFont": "Lato", "labelFontSize": 20, "labelColor": "#1a1a1a", "labelOffset": 24.5, "rowPadding": -2.3, "labelLimit": 200}}}},
          {"data": {"name": "cps"}, "transform": [{"filter": "datum.p === 'c' && datum.e === '⁷⁵As'"}],
           "mark": {"type": "line", "strokeWidth": 4.5, "clip": true},
           "encoding": {"stroke": {"field": "e", "type": "nominal",
             "scale": {"domain": ["⁵⁷Fe", "⁷⁵As", "¹²¹Sb", "³⁴S", "²⁰⁵Tl", "¹⁰⁷Ag", "⁹⁵Mo"], "range": ["#c062a8", "#0b0b0b", "#35aa4a", "#7ca6c1", "#ee2a7b", "#554870", "#8867ae"]},
             "legend": {"title": ["Baseline", "corrected CPS"], "orient": "none", "legendX": 486, "legendY": 492,
               "titleFont": "Lato", "titleFontSize": 21, "titleFontWeight": "normal", "titleColor": "#1a1a1a", "titleLineHeight": 30, "titleAlign": "center", "titleAnchor": "middle", "titlePadding": 0,
               "symbolType": "M-2.45,0H2.45", "symbolSize": 400, "symbolStrokeWidth": 7, "symbolOffset": 30,
               "labelFont": "Lato", "labelFontSize": 20, "labelColor": "#1a1a1a", "labelOffset": 24.5, "rowPadding": -2.3, "labelLimit": 200}}}},
          {"data": {"name": "labels"}, "transform": [{"filter": "datum.p === 'c'"}],
           "mark": {"type": "text", "font": "Lato", "fontSize": 25, "align": "left", "baseline": "alphabetic", "color": "#1a1a1a"},
           "encoding": {"text": {"field": "lab"}}}
        ]
      },
      {
        "width": 360, "height": 228,
        "view": {"stroke": "#1a1a1a", "strokeWidth": 3.5},
        "encoding": {
          "x": {"field": "t", "type": "quantitative", "title": "Time", "scale": {"domain": [0, 58]}, "axis": {"labels": false, "ticks": false, "grid": false, "domain": false, "titleFont": "Lato", "titleFontSize": 18.5, "titlePadding": 7}},
          "y": {"field": "v", "type": "quantitative", "title": "Counts per second", "scale": {"domain": [0, 100]}, "axis": {"labels": false, "ticks": false, "grid": false, "domain": false, "titleFont": "Lato", "titleFontSize": 18.5, "titlePadding": 10}}
        },
        "layer": [
          {"data": {"name": "cps"}, "transform": [{"filter": "datum.p === 'd' && datum.e !== '⁷⁵As'"}],
           "mark": {"type": "line", "strokeWidth": 2.2, "clip": true},
           "encoding": {"stroke": {"field": "e", "type": "nominal", "scale": {"domain": ["⁵⁷Fe", "⁷⁵As", "¹²¹Sb", "³⁴S", "²⁰⁵Tl", "¹⁰⁷Ag", "⁹⁵Mo"], "range": ["#c062a8", "#0b0b0b", "#35aa4a", "#7ca6c1", "#ee2a7b", "#554870", "#8867ae"]}, "legend": null}}},
          {"data": {"name": "cps"}, "transform": [{"filter": "datum.p === 'd' && datum.e === '⁷⁵As'"}],
           "mark": {"type": "line", "strokeWidth": 4.5, "clip": true},
           "encoding": {"stroke": {"field": "e", "type": "nominal", "scale": {"domain": ["⁵⁷Fe", "⁷⁵As", "¹²¹Sb", "³⁴S", "²⁰⁵Tl", "¹⁰⁷Ag", "⁹⁵Mo"], "range": ["#c062a8", "#0b0b0b", "#35aa4a", "#7ca6c1", "#ee2a7b", "#554870", "#8867ae"]}, "legend": null}}},
          {"data": {"name": "labels"}, "transform": [{"filter": "datum.p === 'd'"}],
           "mark": {"type": "text", "font": "Lato", "fontSize": 25, "align": "left", "baseline": "alphabetic", "color": "#1a1a1a"},
           "encoding": {"text": {"field": "lab"}}}
        ]
      },
      {
        "width": 360, "height": 228,
        "view": {"stroke": "#1a1a1a", "strokeWidth": 3.5},
        "encoding": {
          "x": {"field": "t", "type": "quantitative", "title": "Time", "scale": {"domain": [0, 58]}, "axis": {"labels": false, "ticks": false, "grid": false, "domain": false, "titleFont": "Lato", "titleFontSize": 18.5, "titlePadding": 7}},
          "y": {"field": "v", "type": "quantitative", "title": "Counts per second", "scale": {"domain": [0, 100]}, "axis": {"labels": false, "ticks": false, "grid": false, "domain": false, "titleFont": "Lato", "titleFontSize": 18.5, "titlePadding": 10}}
        },
        "layer": [
          {"data": {"name": "cps"}, "transform": [{"filter": "datum.p === 'e' && datum.e !== '⁷⁵As'"}],
           "mark": {"type": "line", "strokeWidth": 2.2, "clip": true},
           "encoding": {"stroke": {"field": "e", "type": "nominal", "scale": {"domain": ["⁵⁷Fe", "⁷⁵As", "¹²¹Sb", "³⁴S", "²⁰⁵Tl", "¹⁰⁷Ag", "⁹⁵Mo"], "range": ["#c062a8", "#0b0b0b", "#35aa4a", "#7ca6c1", "#ee2a7b", "#554870", "#8867ae"]}, "legend": null}}},
          {"data": {"name": "cps"}, "transform": [{"filter": "datum.p === 'e' && datum.e === '⁷⁵As'"}],
           "mark": {"type": "line", "strokeWidth": 4.5, "clip": true},
           "encoding": {"stroke": {"field": "e", "type": "nominal", "scale": {"domain": ["⁵⁷Fe", "⁷⁵As", "¹²¹Sb", "³⁴S", "²⁰⁵Tl", "¹⁰⁷Ag", "⁹⁵Mo"], "range": ["#c062a8", "#0b0b0b", "#35aa4a", "#7ca6c1", "#ee2a7b", "#554870", "#8867ae"]}, "legend": null}}},
          {"data": {"name": "labels"}, "transform": [{"filter": "datum.p === 'e'"}],
           "mark": {"type": "text", "font": "Lato", "fontSize": 25, "align": "left", "baseline": "alphabetic", "color": "#1a1a1a"},
           "encoding": {"text": {"field": "lab"}}}
        ]
      }
    ]
  }
]
}
